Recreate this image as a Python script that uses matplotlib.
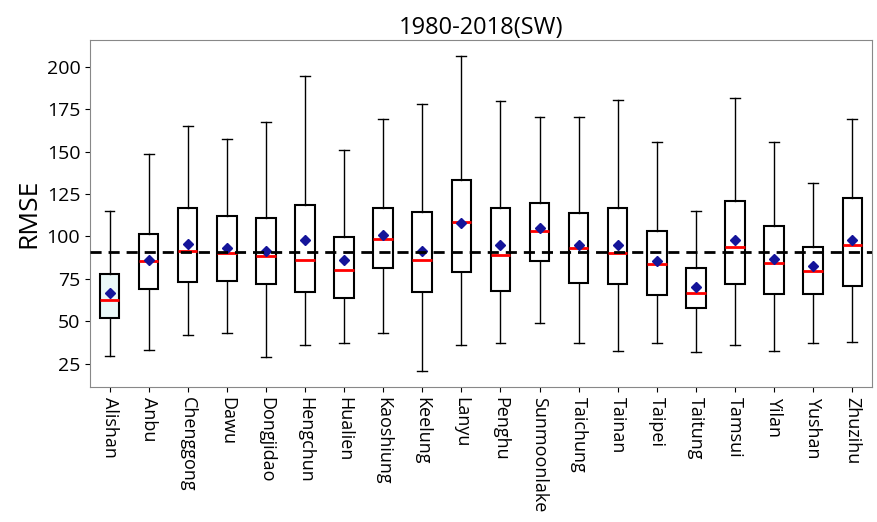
import matplotlib
matplotlib.use("Agg")
import matplotlib.pyplot as plt

plt.rcParams['font.family'] = ['Open Sans', 'DejaVu Sans']

stations = ["Alishan", "Anbu", "Chenggong", "Dawu", "Dongjidao", "Hengchun",
            "Hualien", "Kaoshiung", "Keelung", "Lanyu", "Penghu", "Sunmoonlake",
            "Taichung", "Tainan", "Taipei", "Taitung", "Tamsui", "Yilan",
            "Yushan", "Zhuzihu"]

# RMSE summary
whisker_lo = [29.7, 33.3, 41.9, 42.9, 29.1, 36.2, 37.2, 43.1, 20.7, 36.0,
              37.2, 49.0, 37.0, 32.7, 37.0, 31.7, 36.2, 32.7, 37.2, 37.8]
q1 = [51.8, 69.1, 73.4, 74.0, 71.8, 67.5, 64.0, 81.5, 67.5, 79.0,
      67.7, 85.8, 72.4, 72.2, 65.2, 57.9, 71.8, 66.1, 66.1, 70.9]
median = [62.6, 85.8, 91.7, 90.4, 88.6, 86.4, 80.3, 98.2, 86.4, 108.5,
          89.2, 103.0, 93.1, 90.4, 83.9, 66.5, 93.5, 84.4, 79.9, 94.7]
q3 = [78.0, 101.6, 116.7, 112.0, 110.6, 118.7, 99.4, 116.7, 114.2, 133.5,
      116.7, 119.9, 113.8, 116.9, 103.3, 81.3, 121.1, 106.1, 93.9, 122.4]
whisker_hi = [115.0, 148.4, 165.0, 157.1, 167.3, 194.5, 151.0, 169.3, 178.1, 206.3,
              179.7, 170.3, 170.5, 180.5, 155.9, 114.8, 181.3, 155.9, 131.5, 169.3]
mean = [66.5, 86.0, 95.7, 93.3, 91.3, 97.6, 86.4, 101.0, 91.7, 107.9,
        94.7, 104.9, 94.7, 95.1, 85.8, 70.0, 98.0, 86.8, 82.7, 98.0]
overall_mean = 90.7

stats = []
for i, name in enumerate(stations):
    stats.append(dict(label=name, whislo=whisker_lo[i], q1=q1[i], med=median[i],
                      q3=q3[i], whishi=whisker_hi[i], mean=mean[i], fliers=[]))

fig = plt.figure(figsize=(8.77, 5.22), dpi=100)
ax = fig.add_axes([0.1026, 0.259, 0.8915, 0.664])

bp = ax.bxp(stats, showmeans=True, widths=0.5, patch_artist=True,
            boxprops=dict(edgecolor='black', facecolor='white', linewidth=1.5),
            whiskerprops=dict(color='black', linewidth=1.0),
            capprops=dict(color='black', linewidth=1.0),
            medianprops=dict(color='red', linewidth=2.0),
            meanprops=dict(marker='D', markerfacecolor='#14149a',
                           markeredgecolor='#14149a', markersize=5))
bp['boxes'][0].set_facecolor('#eaf8f8')

ax.axhline(overall_mean, color='black', linestyle='--', linewidth=2.0,
           dashes=(4, 2.5), zorder=3)

ax.set_title("1980-2018(SW)", fontsize=17, pad=4)
ax.set_ylabel("RMSE", fontsize=19)
ax.set_yticks([25, 50, 75, 100, 125, 150, 175, 200])
ax.tick_params(axis='y', labelsize=14)
ax.tick_params(axis='x', labelsize=13)
for lbl in ax.get_xticklabels():
    lbl.set_rotation(-90)
    lbl.set_va('top')
    lbl.set_ha('center')
for sp in ax.spines.values():
    sp.set_color('#888888')

fig.savefig("out.png", dpi=100)
